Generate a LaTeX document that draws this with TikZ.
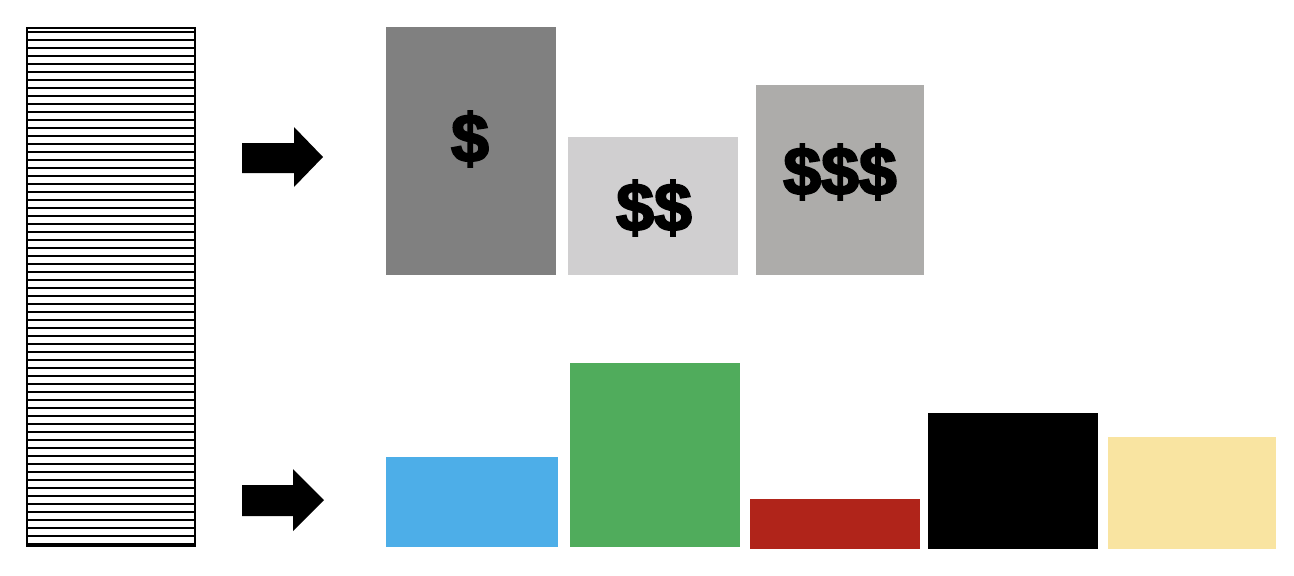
\documentclass[tikz,border=0pt]{standalone}
\usepackage{fontspec}
\newfontfamily\dollarfont{Liberation Sans}[UprightFont={* Bold}, FakeBold=3]
\definecolor{gA}{HTML}{808080}
\definecolor{gB}{HTML}{D0CFD0}
\definecolor{gC}{HTML}{ADACAA}
\definecolor{cBlue}{HTML}{4DAEE8}
\definecolor{cGreen}{HTML}{50AC5C}
\definecolor{cRed}{HTML}{B0241A}
\definecolor{cYellow}{HTML}{F9E4A1}
\tikzset{
  bar/.style={draw=none, inner sep=0pt, outer sep=0pt, anchor=north west},
  money/.style={inner sep=0pt, font=\dollarfont\fontsize{68}{68}\selectfont, text=black},
  bigarrow/.style={fill=black, draw=none},
  stripe/.style={line width=2pt, black}
}
\begin{document}
\begin{tikzpicture}[x=1pt,y=-1pt]
\useasboundingbox (0,0) rectangle (1294,576);
% striped list
\node[draw, line width=2pt, inner sep=0pt, outer sep=0pt, minimum width=168pt, minimum height=518pt, anchor=north west] (list) at (27,28) {};
\foreach \k in {0,...,64} {
  \draw[stripe] (27,{32+8*\k}) -- (195,{32+8*\k});
}
% arrows
\fill[bigarrow] (242,143) -- (294,143) -- (294,127) -- (323,157) -- (294,187) -- (294,173) -- (242,173) -- cycle;
\fill[bigarrow] (242,485) -- (293,485) -- (293,469) -- (324,500) -- (293,531) -- (293,516) -- (242,516) -- cycle;
% price boxes
\node[bar, fill=gA, minimum width=170pt, minimum height=248pt] (p1) at (386,27) {};
\node[bar, fill=gB, minimum width=170pt, minimum height=138pt] (p2) at (568,137) {};
\node[bar, fill=gC, minimum width=168pt, minimum height=190pt] (p3) at (756,85) {};
\node[money] (t1) at (470,139) {\$};
\node[money] (t2) at (654,208) {\$\$};
\node[money] (t3) at (840,172) {\$\$\$};
% colored boxes
\node[bar, fill=cBlue, minimum width=172pt, minimum height=90pt] (c1) at (386,457) {};
\node[bar, fill=cGreen, minimum width=170pt, minimum height=184pt] (c2) at (570,363) {};
\node[bar, fill=cRed, minimum width=170pt, minimum height=50pt] (c3) at (750,499) {};
\node[bar, fill=black, minimum width=170pt, minimum height=136pt] (c4) at (928,413) {};
\node[bar, fill=cYellow, minimum width=168pt, minimum height=112pt] (c5) at (1108,437) {};
\end{tikzpicture}
\end{document}
